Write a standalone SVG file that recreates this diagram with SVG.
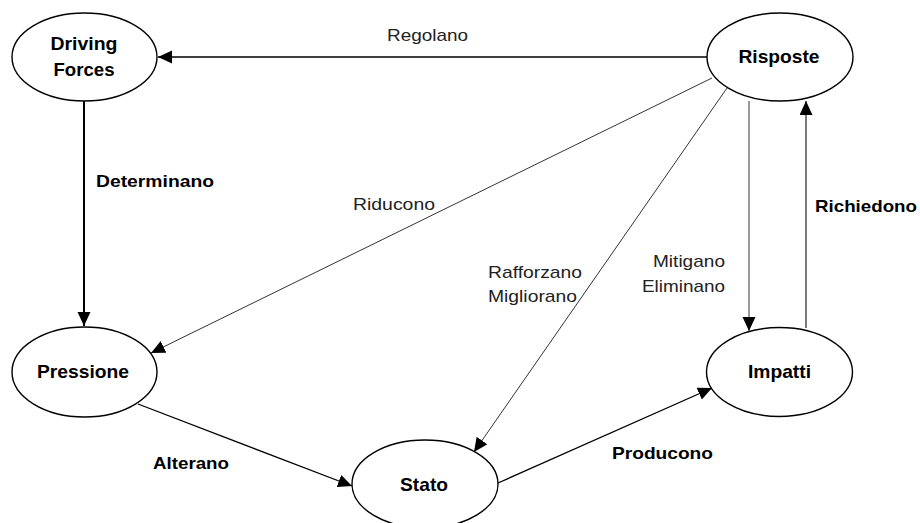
<svg xmlns="http://www.w3.org/2000/svg" width="920" height="523" viewBox="0 0 920 523">
<style>
.node ellipse{fill:#fff;stroke:#000;stroke-width:1.4}
.nt{font-family:"Liberation Sans",Arial,sans-serif;font-weight:bold;font-size:18.5px;fill:#000;text-anchor:middle}
.lb{font-family:"Liberation Sans",Arial,sans-serif;font-size:17px;fill:#222}
.lbb{font-family:"Liberation Sans",Arial,sans-serif;font-size:17px;font-weight:bold;fill:#000}
.c{fill:none;stroke:#000;stroke-width:1.3}
.t{fill:none;stroke:#333;stroke-width:1}
</style>
<defs>
<marker id="ah" markerUnits="userSpaceOnUse" markerWidth="15" markerHeight="14" refX="14" refY="6.5" orient="auto">
<path d="M0,0 L14,6.5 L0,13 Z" fill="#000"/>
</marker>
</defs>
<rect width="920" height="523" fill="#fff"/>
<g id="connectors">
<line class="c" x1="707" y1="57" x2="158" y2="57" marker-end="url(#ah)"/>
<line class="c" x1="84" y1="101" x2="84" y2="326" style="stroke-width:2" marker-end="url(#ah)"/>
<line class="t" x1="712" y1="78" x2="151" y2="353" marker-end="url(#ah)"/>
<line class="t" x1="727" y1="88" x2="474" y2="452" marker-end="url(#ah)"/>
<line class="t" x1="749" y1="101" x2="749" y2="331" marker-end="url(#ah)"/>
<line class="c" x1="806" y1="328" x2="806" y2="101" style="stroke:#333" marker-end="url(#ah)"/>
<line class="c" x1="138" y1="404" x2="352" y2="486" marker-end="url(#ah)"/>
<line class="c" x1="498" y1="483" x2="712" y2="388" marker-end="url(#ah)"/>
<text class="lb" x="387" y="41" textLength="81" lengthAdjust="spacingAndGlyphs">Regolano</text>
<text class="lbb" x="96" y="187" textLength="118" lengthAdjust="spacingAndGlyphs">Determinano</text>
<text class="lb" x="353" y="210" textLength="82" lengthAdjust="spacingAndGlyphs">Riducono</text>
<text class="lb" x="488" y="278" textLength="94" lengthAdjust="spacingAndGlyphs">Rafforzano</text>
<text class="lb" x="488" y="302" textLength="89" lengthAdjust="spacingAndGlyphs">Migliorano</text>
<text class="lb" x="653" y="267" textLength="72" lengthAdjust="spacingAndGlyphs">Mitigano</text>
<text class="lb" x="642" y="292" textLength="83" lengthAdjust="spacingAndGlyphs">Eliminano</text>
<text class="lbb" x="815" y="212" textLength="102" lengthAdjust="spacingAndGlyphs">Richiedono</text>
<text class="lbb" x="153" y="469" textLength="76" lengthAdjust="spacingAndGlyphs">Alterano</text>
<text class="lbb" x="612" y="459" textLength="101" lengthAdjust="spacingAndGlyphs">Producono</text>
</g>
<g id="driving-forces" class="node">
<ellipse cx="84.5" cy="57" rx="72.5" ry="44"/>
<text class="nt" x="84" y="50" textLength="67" lengthAdjust="spacingAndGlyphs">Driving</text>
<text class="nt" x="84" y="76" textLength="61" lengthAdjust="spacingAndGlyphs">Forces</text>
</g>
<g id="risposte" class="node">
<ellipse cx="780" cy="57" rx="73" ry="44"/>
<text class="nt" x="779" y="63" textLength="81" lengthAdjust="spacingAndGlyphs">Risposte</text>
</g>
<g id="pressione" class="node">
<ellipse cx="84.5" cy="372" rx="72.5" ry="45"/>
<text class="nt" x="83" y="378" textLength="92" lengthAdjust="spacingAndGlyphs">Pressione</text>
</g>
<g id="impatti" class="node">
<ellipse cx="779.5" cy="372" rx="73" ry="44.5"/>
<text class="nt" x="779.5" y="378" textLength="63" lengthAdjust="spacingAndGlyphs">Impatti</text>
</g>
<g id="stato" class="node">
<ellipse cx="425" cy="484" rx="73" ry="44"/>
<text class="nt" x="424" y="491" textLength="48" lengthAdjust="spacingAndGlyphs">Stato</text>
</g>
</svg>
